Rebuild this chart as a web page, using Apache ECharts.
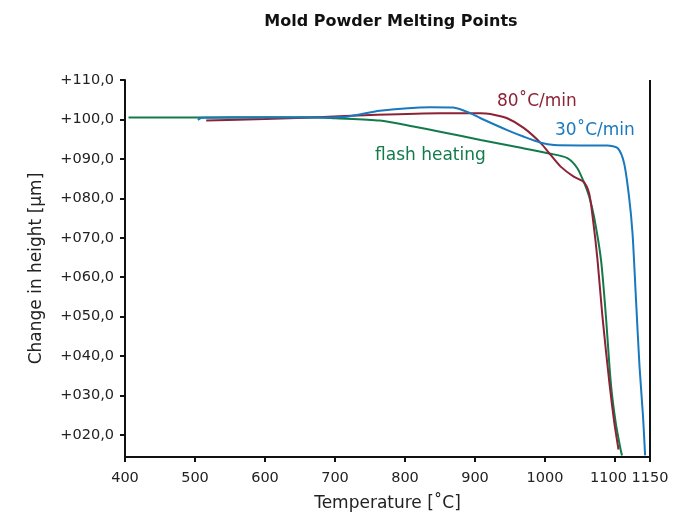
<!DOCTYPE html>
<html><head><meta charset="utf-8">
<script src="https://cdn.jsdelivr.net/npm/echarts@6/dist/echarts.min.js"></script>
<style>html,body{margin:0;padding:0;background:#fff}#c{width:677px;height:517px}</style>
</head><body><div id="c"></div>
<script>
const flashT = [405, 500, 600, 668, 700, 764, 812, 850, 908, 960, 1008, 1032, 1046, 1056, 1063, 1070, 1080, 1087, 1094, 1101, 1108, 1110];
const flashV = [100.5, 100.5, 100.55, 100.55, 100.3, 99.7, 98.2, 96.9, 94.8, 93.0, 91.3, 90.2, 87.7, 83.9, 80.5, 75.4, 64.4, 50.1, 33.2, 23.1, 16.3, 14.8];
const rate80T = [516, 600, 668, 760, 850, 908, 922, 946, 970, 994, 1008, 1022, 1041, 1055, 1063, 1068, 1075, 1082, 1092, 1099, 1105];
const rate80V = [99.7, 100.1, 100.5, 101.2, 101.6, 101.6, 101.4, 100.3, 97.8, 94.0, 91.0, 88.1, 85.5, 84.2, 81.3, 75.4, 64.4, 50.1, 33.2, 23.1, 16.3];
const rate30T = [504, 510, 600, 668, 717, 764, 836, 869, 893, 908, 946, 970, 994, 1013, 1050, 1089, 1104, 1113, 1120, 1125, 1130, 1135, 1140, 1143];
const rate30V = [99.9, 100.4, 100.5, 100.5, 100.7, 102.2, 103.1, 103.0, 101.6, 100.3, 97.3, 95.6, 94.1, 93.5, 93.4, 93.4, 92.7, 88.9, 80.5, 71.2, 54.3, 37.4, 24.8, 14.8];
const seriesNames = ['flash heating', '80˚C/min', '30˚C/min'];
const xTicks = [400, 500, 600, 700, 800, 900, 1000, 1100, 1150];
const yTicks = [20, 30, 40, 50, 60, 70, 80, 90, 100, 110];
const colors = ['#137a4c', '#8c2236', '#1a78be'];

const zip = (a, b) => a.map((t, i) => [t, b[i]]);
const FONT = 'DejaVu Sans';
const chart = echarts.init(document.getElementById('c'), null, {renderer: 'canvas'});
const mk = (name, T, V, c) => ({
  name, type: 'line', data: zip(T, V), showSymbol: false, smooth: 0.25,
  lineStyle: {color: c, width: 2}, itemStyle: {color: c}, z: 3
});
chart.setOption({
  animation: false,
  backgroundColor: '#fff',
  title: {text: 'Mold Powder Melting Points', left: 386, textAlign: 'center', top: 9,
    textStyle: {fontFamily: FONT, fontSize: 16, fontWeight: 'bold', color: '#111'}},
  grid: {left: 125, right: 27, top: 80, bottom: 59, show: false},
  xAxis: {type: 'value', min: 400, max: 1150,
    name: 'Temperature [˚C]', nameLocation: 'middle', nameGap: 38,
    nameTextStyle: {fontFamily: FONT, fontSize: 17, color: '#222'},
    axisLine: {show: true, lineStyle: {color: '#111', width: 2}},
    axisTick: {show: true, inside: false, length: 5, customValues: xTicks, lineStyle: {color: '#111', width: 2}},
    axisLabel: {fontFamily: FONT, fontSize: 14.5, color: '#222', margin: 14, customValues: xTicks,
      hideOverlap: false, showMaxLabel: true, showMinLabel: true,
      formatter: v => (v === 1100 ? '{s|' + v + '}' : String(v)),
      rich: {s: {fontFamily: FONT, fontSize: 14.5, color: '#222', padding: [0, 13, 0, 0]}}},
    splitLine: {show: false}},
  yAxis: {type: 'value', min: 14.4, max: 110,
    name: 'Change in height [µm]', nameLocation: 'middle', nameGap: 80, nameRotate: 90,
    nameTextStyle: {fontFamily: FONT, fontSize: 17, color: '#222'},
    axisLine: {show: true, lineStyle: {color: '#111', width: 2}},
    axisTick: {show: true, inside: false, length: 5, customValues: yTicks, lineStyle: {color: '#111', width: 2}},
    axisLabel: {fontFamily: FONT, fontSize: 14.5, color: '#222', margin: 11, customValues: yTicks,
      formatter: v => '+' + String(Math.round(v)).padStart(3, '0') + ',0'},
    splitLine: {show: false}},
  series: [
    mk(seriesNames[0], flashT, flashV, colors[0]),
    mk(seriesNames[1], rate80T, rate80V, colors[1]),
    mk(seriesNames[2], rate30T, rate30V, colors[2])
  ],
  graphic: [
    {type: 'line', shape: {x1: 650, y1: 80, x2: 650, y2: 458}, style: {stroke: '#111', lineWidth: 2}, z: 10},
    {type: 'text', left: 375, top: 147, style: {text: seriesNames[0], fill: colors[0], font: '17px "DejaVu Sans"'}},
    {type: 'text', left: 497, top: 93, style: {text: seriesNames[1], fill: colors[1], font: '17px "DejaVu Sans"'}},
    {type: 'text', left: 555, top: 122, style: {text: seriesNames[2], fill: colors[2], font: '17px "DejaVu Sans"'}}
  ]
});
</script></body></html>
